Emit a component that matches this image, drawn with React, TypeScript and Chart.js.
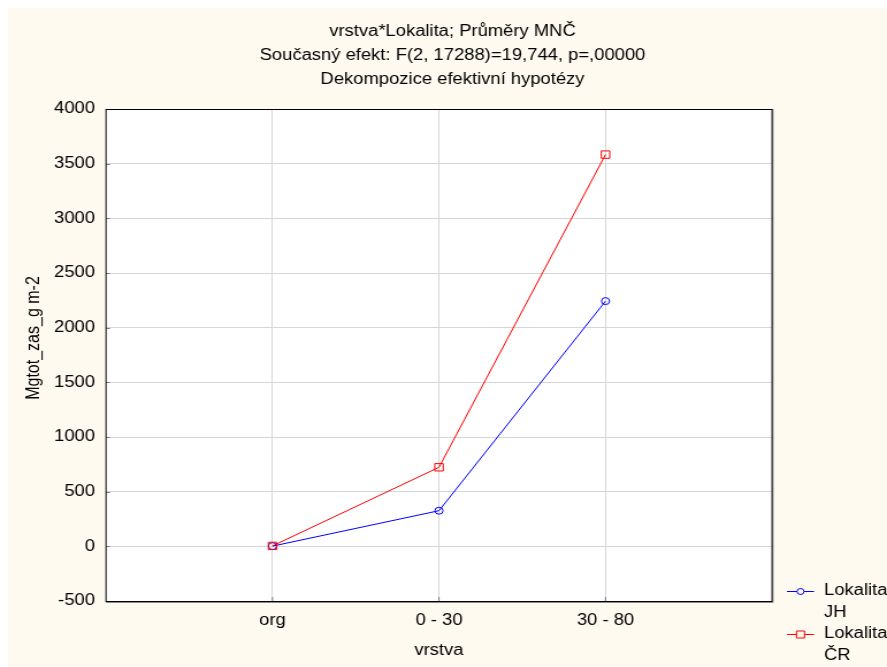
import React, { useEffect, useRef } from 'react';
import { Chart, registerables } from 'chart.js';

Chart.register(...registerables);

// ---- data ----
const categories = ['org', '0 - 30', '30 - 80'];
const lokalitaJH = [2, 326, 2243];
const lokalitaCR = [4, 723, 3583];
const seriesLabels = ['Lokalita JH', 'Lokalita ČR'];
const legendLines = [
  ['Lokalita', 'JH'],
  ['Lokalita', 'ČR'],
];
const yTickValues = [-500, 0, 500, 1000, 1500, 2000, 2500, 3000, 3500, 4000];
const titleLines = [
  'vrstva*Lokalita; Průměry MNČ',
  'Současný efekt: F(2, 17288)=19,744, p=,00000',
  'Dekompozice efektivní hypotézy',
];
const xAxisTitle = 'vrstva';
const yAxisTitle = 'Mgtot_zas_g m-2';

// ---- layout / style ----
const CSS_W = 879;
const CSS_H = 659;
const W = 764; // internal width (text is drawn horizontally stretched like the reference)
const SX = CSS_W / W;
const X = (px: number) => px / SX;
const FONT = '"Liberation Sans", Arial, Helvetica, sans-serif';
const CREAM = '#fefaf0';
const GRID = '#d6d6d6';
const BLUE = '#0000ff';
const RED = '#ff0000';

const PLOT_L = 98;
const PLOT_R = 764;
const PLOT_T = 101;
const PLOT_B = 593;

const decor = {
  id: 'decor',
  beforeDraw(chart: any) {
    const { ctx, width, height, chartArea: a } = chart;
    ctx.save();
    ctx.fillStyle = CREAM;
    ctx.fillRect(0, 0, width, height);
    ctx.fillStyle = '#ffffff';
    ctx.fillRect(a.left, a.top, a.right - a.left, a.bottom - a.top);
    ctx.restore();
  },
  afterDraw(chart: any) {
    const { ctx, chartArea: a, scales } = chart;
    ctx.save();
    // inner tick marks
    ctx.strokeStyle = '#7a7a7a';
    ctx.lineWidth = 1;
    for (const v of yTickValues) {
      const y = Math.round(scales.y.getPixelForValue(v)) + 0.5;
      ctx.beginPath();
      ctx.moveTo(a.left, y);
      ctx.lineTo(a.left + X(4), y);
      ctx.stroke();
    }
    categories.forEach((_, i) => {
      const x = scales.x.getPixelForValue(i);
      ctx.beginPath();
      ctx.moveTo(x, a.bottom);
      ctx.lineTo(x, a.bottom - 4);
      ctx.stroke();
    });
    // border
    ctx.strokeStyle = '#8a8a8a';
    ctx.beginPath();
    ctx.moveTo(a.right + X(1), a.top);
    ctx.lineTo(a.right + X(1), a.bottom + 1.5);
    ctx.lineTo(a.left, a.bottom + 1.5);
    ctx.stroke();
    ctx.strokeStyle = '#000000';
    ctx.strokeRect(a.left, Math.round(a.top) + 0.5, a.right - a.left, Math.round(a.bottom - a.top));

    // titles
    ctx.fillStyle = '#000000';
    ctx.font = `16px ${FONT}`;
    ctx.textAlign = 'center';
    ctx.textBaseline = 'middle';
    titleLines.forEach((t, i) => {
      ctx.fillText(t, X(444.5), 24 + i * 24);
    });
    // x axis title
    ctx.textBaseline = 'alphabetic';
    ctx.fillText(xAxisTitle, (a.left + a.right) / 2, 647);
    // y axis title
    ctx.save();
    ctx.translate(X(26), 330);
    ctx.rotate(-Math.PI / 2);
    ctx.textBaseline = 'middle';
    ctx.fillText(yAxisTitle, 0, 0);
    ctx.restore();

    // legend
    const items = [
      { color: BLUE, style: 'circle', y: 583 },
      { color: RED, style: 'rect', y: 626 },
    ];
    items.forEach((it, i) => {
      ctx.strokeStyle = it.color;
      ctx.lineWidth = 1;
      ctx.beginPath();
      ctx.moveTo(X(779), it.y + 0.5);
      ctx.lineTo(X(806), it.y + 0.5);
      ctx.stroke();
      const cx = X(792.5);
      ctx.fillStyle = CREAM;
      ctx.beginPath();
      if (it.style === 'circle') {
        ctx.arc(cx, it.y + 0.5, 3, 0, Math.PI * 2);
      } else {
        ctx.rect(cx - 3.5, it.y + 0.5 - 3.5, 7, 7);
      }
      ctx.fill();
      ctx.stroke();
      ctx.fillStyle = '#000000';
      ctx.textAlign = 'left';
      ctx.textBaseline = 'middle';
      ctx.fillText(legendLines[i][0], X(816), it.y);
      ctx.fillText(legendLines[i][1], X(816), it.y + 22);
    });
    ctx.restore();
  },
};

export default function App() {
  const ref = useRef<HTMLCanvasElement | null>(null);

  useEffect(() => {
    document.documentElement.style.overflow = 'hidden';
    const canvas = ref.current;
    if (!canvas) return;
    const chart = new Chart(canvas, {
      type: 'line',
      data: {
        datasets: [
          {
            label: seriesLabels[0],
            data: lokalitaJH.map((v, i) => ({ x: i, y: v })),
            borderColor: BLUE,
            backgroundColor: 'rgba(0,0,0,0)',
            borderWidth: 1,
            pointStyle: 'circle',
            pointRadius: 3.5,
            pointBorderWidth: 1,
            pointBackgroundColor: 'rgba(0,0,0,0)',
            pointBorderColor: BLUE,
            tension: 0,
            order: 1,
          },
          {
            label: seriesLabels[1],
            data: lokalitaCR.map((v, i) => ({ x: i, y: v })),
            borderColor: RED,
            backgroundColor: 'rgba(0,0,0,0)',
            borderWidth: 1,
            pointStyle: 'rect',
            pointRadius: 5.2,
            pointBorderWidth: 1,
            pointBackgroundColor: 'rgba(0,0,0,0)',
            pointBorderColor: RED,
            tension: 0,
            order: 0,
          },
        ],
      },
      options: {
        animation: false,
        responsive: false,
        devicePixelRatio: 1,
        layout: {
          padding: { left: 0, top: PLOT_T, right: W - X(PLOT_R), bottom: 0 },
        },
        plugins: {
          legend: { display: false },
          title: { display: false },
          tooltip: { enabled: false },
        },
        scales: {
          x: {
            type: 'linear',
            min: -1,
            max: 3,
            afterBuildTicks: (s: any) => {
              s.ticks = categories.map((_, i) => ({ value: i }));
            },
            afterFit: (s: any) => {
              s.height = CSS_H - PLOT_B;
            },
            ticks: {
              autoSkip: false,
              maxRotation: 0,
              padding: 10,
              color: '#000000',
              font: { family: FONT, size: 16 },
              callback: (v: any) => categories[v] ?? '',
            },
            grid: { color: GRID, lineWidth: 1, drawTicks: false },
            border: { display: false },
          },
          y: {
            type: 'linear',
            min: -500,
            max: 4000,
            afterBuildTicks: (s: any) => {
              s.ticks = yTickValues.map((v) => ({ value: v }));
            },
            afterFit: (s: any) => {
              s.width = X(PLOT_L);
            },
            ticks: {
              padding: X(11),
              color: '#000000',
              font: { family: FONT, size: 16 },
              callback: (v: any) => String(v),
            },
            grid: { color: GRID, lineWidth: 1, drawTicks: false },
            border: { display: false },
          },
        },
      } as any,
      plugins: [decor],
    });
    return () => chart.destroy();
  }, []);

  return (
    <div style={{ position: 'fixed', left: '8px', top: '8px', width: `${CSS_W}px`, height: `${CSS_H}px` }}>
      <canvas
        ref={ref}
        width={W}
        height={CSS_H}
        style={{ width: `${CSS_W}px`, height: `${CSS_H}px`, display: 'block' }}
      />
    </div>
  );
}
